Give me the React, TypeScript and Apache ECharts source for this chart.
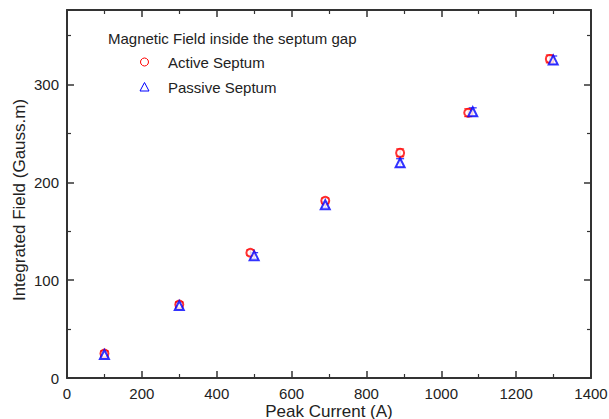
import React, { useEffect, useRef } from "react";
import * as echarts from "echarts";

const activeX = [100, 300, 490, 690, 890, 1072, 1290];
const activeY = [25, 75, 128, 181, 230, 271, 326];
const activeErr = [3, 3, 3, 3, 4, 4, 4];
const passiveX = [100, 300, 500, 690, 890, 1084, 1299];
const passiveY = [24, 74, 125, 177, 220, 272, 325];
const passiveErr = [3, 3, 3, 3, 4, 4, 4];

const legendTitle = "Magnetic Field inside the septum gap";
const activeName = "Active Septum";
const passiveName = "Passive Septum";
const xName = "Peak Current (A)";
const yName = "Integrated Field (Gauss.m)";

const FONT = "Liberation Sans, Arial, sans-serif";

function errSeries(xs: number[], ys: number[], es: number[], color: string) {
  return {
    type: "custom",
    silent: true,
    z: 2,
    data: xs.map((x, i) => [x, ys[i], es[i]]),
    renderItem: (params: any, api: any) => {
      const x = api.value(0);
      const y = api.value(1);
      const e = api.value(2);
      const lo = api.coord([x, y - e]);
      const hi = api.coord([x, y + e]);
      const w = 4;
      const style = { stroke: color, lineWidth: 1 };
      return {
        type: "group",
        children: [
          { type: "line", shape: { x1: lo[0], y1: lo[1], x2: hi[0], y2: hi[1] }, style },
          { type: "line", shape: { x1: lo[0] - w, y1: lo[1], x2: lo[0] + w, y2: lo[1] }, style },
          { type: "line", shape: { x1: hi[0] - w, y1: hi[1], x2: hi[0] + w, y2: hi[1] }, style },
        ],
      };
    },
  };
}

export default function App() {
  const ref = useRef<HTMLDivElement>(null);
  useEffect(() => {
    if (!ref.current) return;
    const chart = echarts.init(ref.current, undefined, { renderer: "svg" });
    const axisLine = { show: true, onZero: false, lineStyle: { color: "#333", width: 2 } };
    const axisTick = { show: true, inside: true, length: 7, lineStyle: { color: "#333", width: 1.5 } };
    const minorTick = { show: true, splitNumber: 2, length: 4, lineStyle: { color: "#333", width: 1.2 } };
    chart.setOption({
      animation: false,
      backgroundColor: "#fff",
      textStyle: { fontFamily: FONT },
      grid: { left: 67, top: 10, right: 18, bottom: 41, containLabel: false, outerBoundsMode: "none" },
      xAxis: [
        {
          type: "value",
          min: 0,
          max: 1400,
          interval: 200,
          position: "bottom",
          axisLine,
          axisTick,
          minorTick,
          splitLine: { show: false },
          axisLabel: { color: "#222", fontSize: 15, fontFamily: FONT, margin: 8, lineHeight: 15, formatter: (v: number) => String(v) },
        },
        {
          type: "value",
          min: 0,
          max: 1400,
          interval: 200,
          position: "top",
          axisLine,
          axisTick,
          minorTick,
          splitLine: { show: false },
          axisLabel: { show: false },
        },
      ],
      yAxis: [
        {
          type: "value",
          min: 0,
          max: 376,
          interval: 100,
          position: "left",
          axisLine,
          axisTick,
          minorTick,
          splitLine: { show: false },
          axisLabel: {
            color: "#222",
            fontSize: 15,
            fontFamily: FONT,
            margin: 8,
            formatter: (v: number) => (v % 100 === 0 ? String(v) : ""),
          },
        },
        {
          type: "value",
          min: 0,
          max: 376,
          interval: 100,
          position: "right",
          axisLine,
          axisTick,
          minorTick,
          splitLine: { show: false },
          axisLabel: { show: false },
        },
      ],
      series: [
        errSeries(activeX, activeY, activeErr, "#ff0000"),
        errSeries(passiveX, passiveY, passiveErr, "#0000ff"),
        {
          type: "scatter",
          name: activeName,
          symbol: "emptyCircle",
          symbolSize: 8,
          z: 3,
          itemStyle: { color: "#ff0000", borderColor: "#ff0000", borderWidth: 1 },
          data: activeX.map((x, i) => [x, activeY[i]]),
        },
        {
          type: "scatter",
          name: passiveName,
          symbol: "emptyTriangle",
          symbolSize: 9,
          z: 4,
          itemStyle: { color: "#0000ff", borderColor: "#0000ff", borderWidth: 1 },
          data: passiveX.map((x, i) => [x, passiveY[i]]),
        },
      ],
      graphic: [
        {
          type: "text",
          x: 329,
          y: 411,
          style: { text: xName, fill: "#222", fontSize: 17, lineHeight: 16, fontFamily: FONT, align: "center", verticalAlign: "middle" },
        },
        {
          type: "text",
          x: 19,
          y: 200,
          rotation: Math.PI / 2,
          style: { text: yName, fill: "#222", fontSize: 17, fontFamily: FONT, align: "center", verticalAlign: "middle" },
        },
        {
          type: "text",
          x: 108,
          y: 38,
          style: { text: legendTitle, fill: "#222", fontSize: 15, fontFamily: FONT, verticalAlign: "middle" },
        },
        {
          type: "circle",
          shape: { cx: 144.5, cy: 62, r: 4 },
          style: { fill: "none", stroke: "#ff0000", lineWidth: 1 },
        },
        {
          type: "text",
          x: 168,
          y: 62.5,
          style: { text: activeName, fill: "#222", fontSize: 15, fontFamily: FONT, verticalAlign: "middle" },
        },
        {
          type: "polygon",
          shape: { points: [[144.5, 82.5], [140, 91], [149, 91]] },
          style: { fill: "none", stroke: "#0000ff", lineWidth: 1 },
        },
        {
          type: "text",
          x: 168,
          y: 87.5,
          style: { text: passiveName, fill: "#222", fontSize: 15, fontFamily: FONT, verticalAlign: "middle" },
        },
      ],
    });
    return () => chart.dispose();
  }, []);
  return <div ref={ref} style={{ width: 609, height: 419, position: "fixed", left: 0, top: 0 }} />;
}
